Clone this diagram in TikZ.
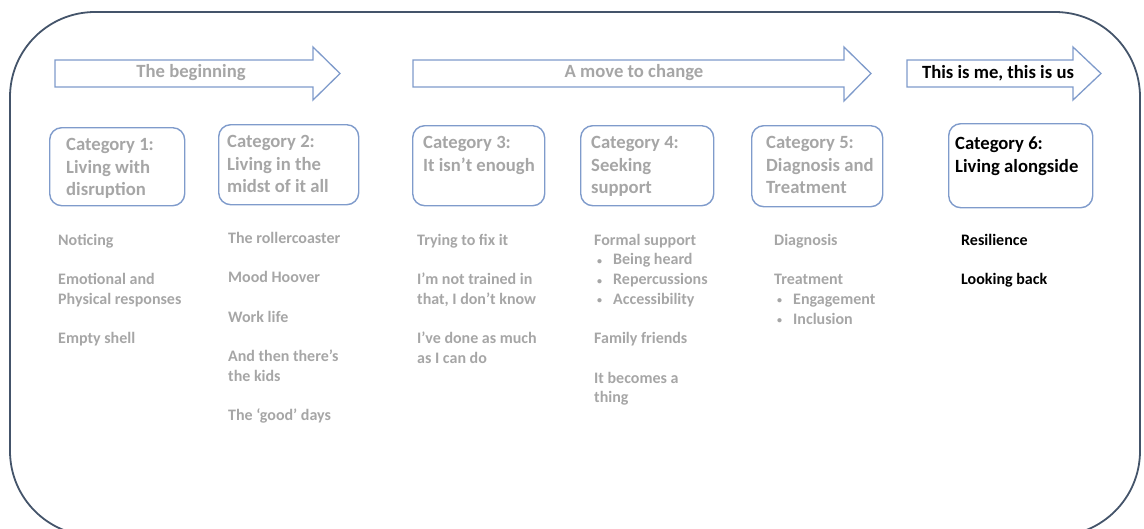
\documentclass[tikz,border=0pt]{standalone}
\usepackage{fontspec}
\setmainfont{Carlito}
\definecolor{framecol}{HTML}{44546A}
\definecolor{boxcol}{HTML}{7F9BCB}
\definecolor{dimtext}{HTML}{A6A6A6}
\newcommand{\bulletline}[1]{\hspace*{3pt}\makebox[16pt][l]{\raisebox{0.5pt}{\fontsize{10}{10}\selectfont•}}#1}
\begin{document}
\begin{tikzpicture}[x=1pt,y=-1pt,
  frame/.style={draw=framecol, line width=1.8pt, rounded corners=85pt},
  phasearrow/.style={draw=boxcol, line width=1.3pt, fill=white, line join=miter},
  arrowtext/.style={font=\fontsize{18.67}{22.8}\selectfont\bfseries, inner sep=0pt},
  catbox/.style={draw=boxcol, line width=1.4pt, rounded corners=12pt, anchor=north west, inner sep=0pt},
  cattext/.style={font=\fontsize{18.67}{22.8}\selectfont\bfseries, align=left, anchor=north west, inner sep=0pt},
  listtext/.style={font=\fontsize{16}{19.7}\selectfont\bfseries, align=left, anchor=north west, inner sep=0pt},
  dim/.style={text=dimtext},
  dark/.style={text=black}]
\useasboundingbox (0,0) rectangle (1144,528);
\clip (0,0) rectangle (1144,528);

% outer frame, running past the lower edge of the page
\draw[frame] (10,12) rectangle (1140,536);

% phase arrows
\draw[phasearrow] (55,60) -- (313,60) -- (313,47) -- (340,73.5) -- (313,100) -- (313,87) -- (55,87) -- cycle;
\draw[phasearrow] (413,60) -- (844,60) -- (844,47) -- (871,73.5) -- (844,101) -- (844,87) -- (413,87) -- cycle;
\draw[phasearrow] (907,60) -- (1073,60) -- (1073,47) -- (1101,73.5) -- (1073,100) -- (1073,87) -- (907,87) -- cycle;
\node[arrowtext, dim] (p1) at (191,73) {The beginning};
\node[arrowtext, dim] (p2) at (634,73) {A move to change};
\node[arrowtext, dark] (p3) at (998,73) {This is me, this is us};

% category boxes
\node[catbox, minimum width=135pt, minimum height=78pt] (c1) at (49,127) {};
\node[catbox, minimum width=140pt, minimum height=80pt] (c2) at (218,124) {};
\node[catbox, minimum width=132pt, minimum height=80pt] (c3) at (412,125) {};
\node[catbox, minimum width=133pt, minimum height=80pt] (c4) at (580,125) {};
\node[catbox, minimum width=131pt, minimum height=81pt] (c5) at (751,125) {};
\node[catbox, minimum width=144pt, minimum height=84pt] (c6) at (948,123) {};

\node[cattext, dim] (c1t) at (66,135) {\rule{0pt}{15pt}Category 1:\\Living with\\disruption};
\node[cattext, dim] (c2t) at (227,132) {\rule{0pt}{15pt}Category 2:\\Living in the\\midst of it all};
\node[cattext, dim] (c3t) at (423,133) {\rule{0pt}{15pt}Category 3:\\It isn’t enough};
\node[cattext, dim] (c4t) at (591,133) {\rule{0pt}{15pt}Category 4:\\Seeking\\support};
\node[cattext, dim] (c5t) at (766,133) {\rule{0pt}{15pt}Category 5:\\Diagnosis and\\Treatment};
\node[cattext, dark] (c6t) at (955,134) {\rule{0pt}{15pt}Category 6:\\Living alongside};

% sub-themes under each category
\node[listtext, dim] (l1) at (58,232) {\rule{0pt}{13pt}Noticing\\[19.7pt]Emotional and\\Physical responses\\[19.7pt]Empty shell};
\node[listtext, dim] (l2) at (228,230) {\rule{0pt}{13pt}The rollercoaster\\[19.7pt]Mood Hoover\\[19.7pt]Work life\\[19.7pt]And then there's\\the kids\\[19.7pt]The ‘good’ days};
\node[listtext, dim] (l3) at (417,232) {\rule{0pt}{13pt}Trying to fix it\\[19.7pt]I’m not trained in\\that, I don’t know\\[19.7pt]I’ve done as much\\as I can do};
\node[listtext, dim] (l4) at (594,232) {\rule{0pt}{13pt}Formal support\\
  \bulletline{Being heard}\\
  \bulletline{Repercussions}\\
  \bulletline{Accessibility}\\[19.7pt]Family friends\\[19.7pt]It becomes a\\thing};
\node[listtext, dim] (l5) at (774,232) {\rule{0pt}{13pt}Diagnosis\\[19.7pt]Treatment\\
  \bulletline{Engagement}\\
  \bulletline{Inclusion}};
\node[listtext, dark] (l6) at (961,232) {\rule{0pt}{13pt}Resilience\\[19.7pt]Looking back};
\end{tikzpicture}
\end{document}
